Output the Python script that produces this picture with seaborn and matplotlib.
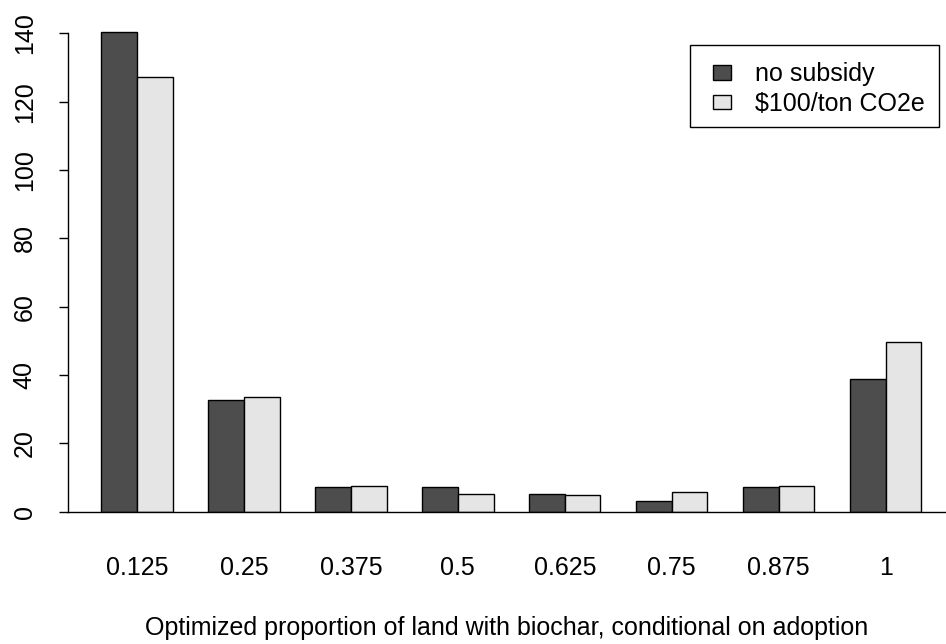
import matplotlib
matplotlib.use("Agg")
import matplotlib.pyplot as plt
import seaborn as sns
import pandas as pd
from matplotlib.patches import Rectangle

categories = ["0.125", "0.25", "0.375", "0.5", "0.625", "0.75", "0.875", "1"]
no_subsidy = [140.5, 32.7, 7.1, 7.1, 5.1, 3.2, 7.1, 38.9]
subsidy_100 = [127.3, 33.5, 7.5, 5.3, 5.0, 5.8, 7.6, 49.6]
series_names = ["no subsidy", "\\$100/ton CO2e"]
y_ticks = [0, 20, 40, 60, 80, 100, 120, 140]
x_label = "Optimized proportion of land with biochar, conditional on adoption"

df = pd.DataFrame({
    "prop": categories * 2,
    "value": no_subsidy + subsidy_100,
    "series": [series_names[0]] * len(categories) + [series_names[1]] * len(categories),
})

sns.set_style("white")
plt.rcParams["font.family"] = ["Liberation Sans", "DejaVu Sans"]
plt.rcParams["text.color"] = "black"
plt.rcParams["axes.labelcolor"] = "black"
plt.rcParams["xtick.color"] = "black"
plt.rcParams["ytick.color"] = "black"

FS = 18
W, H = 946, 644
fig = plt.figure(figsize=(W / 100, H / 100), dpi=100)
y0 = 511.7
top = 5
ppu = 3.417
ax = fig.add_axes([68 / W, (H - y0) / H, (W - 68) / W, (y0 - top) / H])

sns.barplot(data=df, x="prop", y="value", hue="series", order=categories,
            hue_order=series_names, palette=["#4d4d4d", "#e5e5e5"],
            width=2 / 3, edgecolor="black", linewidth=1.0, saturation=1,
            ax=ax, legend=True)

ax.set_xlim(-0.645, 7.564)
ax.set_ylim(0, (y0 - top) / ppu)
ax.set_yticks(y_ticks)
ax.set_yticklabels([str(t) for t in y_ticks], rotation=90, va="center")
ax.tick_params(axis="y", length=6.5, width=1, pad=16, labelsize=FS, left=True,
               color="black", labelcolor="black")
ax.tick_params(axis="x", length=0, pad=32, labelsize=FS, labelcolor="black")
ax.set_xlabel(x_label, fontsize=FS, labelpad=26, color="black")
ax.set_ylabel("")
for s in ["top", "right"]:
    ax.spines[s].set_visible(False)
ax.spines["left"].set_bounds(0, 140)
ax.spines["left"].set_color("black")
ax.spines["left"].set_linewidth(1)
ax.spines["bottom"].set_color("black")
ax.spines["bottom"].set_linewidth(1)

handles, labels = ax.get_legend_handles_labels()
leg = ax.legend(handles, labels, loc="upper left",
                bbox_to_anchor=(713 / W, 1 - 62.5 / H), bbox_transform=fig.transFigure,
                frameon=False, fontsize=FS, borderpad=0, borderaxespad=0,
                handlelength=0.72, handleheight=0.52, handletextpad=0.96,
                labelspacing=0.22)
for t in leg.get_texts():
    t.set_color("black")
fig.patches.append(Rectangle((690 / W, 1 - 127 / H), (939 - 690) / W, (127 - 45) / H,
                             transform=fig.transFigure, fill=False, edgecolor="black",
                             linewidth=1))

fig.savefig("out.png", dpi=100)
